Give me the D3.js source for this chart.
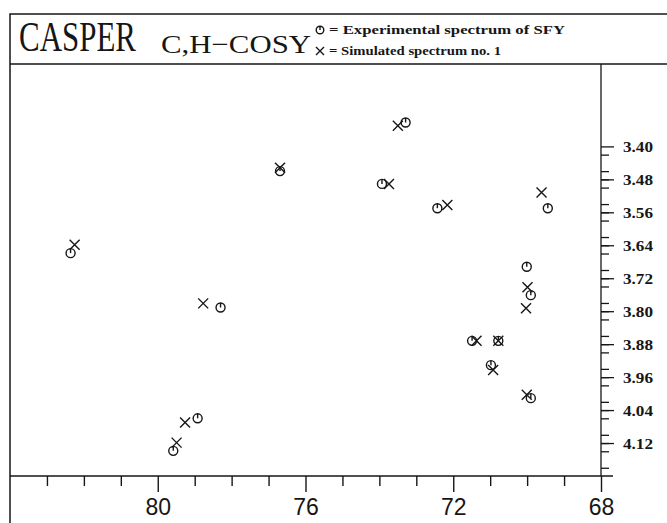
<!DOCTYPE html>
<html>
<head>
<meta charset="utf-8">
<script src="https://cdn.jsdelivr.net/npm/d3@7"></script>
<style>
  body { margin: 0; background: #fff; }
  svg { display: block; }
</style>
</head>
<body>
<svg width="667" height="523"></svg>
<script>
// experimental spectrum (circles): 13C shift, 1H shift
var expC = [82.36, 79.58, 78.92, 78.30, 76.69, 73.29, 73.93, 72.43, 69.44, 70.01, 69.90, 71.49, 70.78, 70.98, 69.90];
var expH = [3.659, 4.139, 4.060, 3.791, 3.460, 3.342, 3.491, 3.550, 3.550, 3.692, 3.761, 3.872, 3.872, 3.931, 4.011];
// simulated spectrum (crosses)
var simC = [82.25, 79.49, 79.26, 78.77, 76.69, 73.50, 73.74, 72.16, 69.61, 69.99, 70.03, 71.37, 70.78, 70.92, 70.01];
var simH = [3.639, 4.119, 4.070, 3.781, 3.452, 3.350, 3.491, 3.542, 3.512, 3.742, 3.793, 3.872, 3.872, 3.943, 4.003];

var xMajor = [80, 76, 72, 68];
var xMinor = [83, 82, 81, 79, 78, 77, 75, 74, 73, 71, 70, 69];
var yLabels = ["3.40", "3.48", "3.56", "3.64", "3.72", "3.80", "3.88", "3.96", "4.04", "4.12"];

var ink = "#161616";
var svg = d3.select("svg");

var x = d3.scaleLinear().domain([84, 68]).range([10, 601]);
var y = d3.scaleLinear().domain([3.20, 4.20]).range([64, 476]);

// frame
svg.append("path")
    .attr("d", "M10,523V14H667M10,64H667")
    .attr("fill", "none").attr("stroke", ink).attr("stroke-width", 1.5);

// title (CASPER squeezed with a transform, like the tall narrow original face)
svg.append("text")
    .attr("transform", "translate(19,51) scale(0.72,1)")
    .attr("font-family", "Liberation Serif").attr("font-size", 43)
    .attr("fill", ink).text("CASPER");
svg.append("text").attr("x", 161).attr("y", 53)
    .attr("font-family", "Liberation Serif").attr("font-size", 26)
    .attr("textLength", 150).attr("lengthAdjust", "spacingAndGlyphs")
    .attr("fill", ink).text("C,H\u2212COSY");
svg.append("text").attr("x", 329).attr("y", 34)
    .attr("font-family", "Liberation Serif").attr("font-weight", "bold").attr("font-size", 12)
    .attr("textLength", 236).attr("lengthAdjust", "spacingAndGlyphs")
    .attr("fill", ink).text("= Experimental spectrum of  SFY");
svg.append("text").attr("x", 329).attr("y", 55)
    .attr("font-family", "Liberation Serif").attr("font-weight", "bold").attr("font-size", 12)
    .attr("textLength", 172).attr("lengthAdjust", "spacingAndGlyphs")
    .attr("fill", ink).text("= Simulated spectrum no. 1");

function circleMark(g, cx, cy, r) {
    g.append("circle").attr("cx", cx).attr("cy", cy).attr("r", r)
        .attr("fill", "none").attr("stroke", ink).attr("stroke-width", 1.4);
    g.append("line").attr("x1", cx).attr("x2", cx).attr("y1", cy - r).attr("y2", cy)
        .attr("stroke", ink).attr("stroke-width", 1.4);
}
function crossMark(g, cx, cy, s) {
    g.append("path")
        .attr("d", "M" + (cx - s) + "," + (cy - s) + "L" + (cx + s) + "," + (cy + s) +
                   "M" + (cx - s) + "," + (cy + s) + "L" + (cx + s) + "," + (cy - s))
        .attr("stroke", ink).attr("stroke-width", 1.4).attr("fill", "none");
}

var leg = svg.append("g");
circleMark(leg, 320, 30, 3.8);
crossMark(leg, 320, 51, 4);

// bottom axis
var gx = svg.append("g").attr("transform", "translate(0,476)");
gx.append("line").attr("x1", 10).attr("x2", 613)
    .attr("stroke", ink).attr("stroke-width", 1.5);
gx.append("g")
    .call(d3.axisBottom(x).tickValues(xMinor).tickSize(10).tickFormat(""))
    .call(function (g) { g.select(".domain").remove(); });
gx.append("g")
    .call(d3.axisBottom(x).tickValues(xMajor).tickSize(16).tickPadding(7).tickFormat(d3.format("d")))
    .call(function (g) { g.select(".domain").remove(); });
gx.selectAll("line").attr("stroke", ink).attr("stroke-width", 1.4);
gx.selectAll("text").attr("font-family", "Liberation Sans").attr("font-size", 23).attr("fill", ink);

// right axis
var yMinor = d3.range(11, 50).map(function (i) { return +(3.2 + i * 0.02).toFixed(2); })
    .filter(function (v) { return Math.round(v * 100) % 8 !== 0; });
var yMajor = d3.range(3, 13).map(function (i) { return +(3.16 + i * 0.08).toFixed(2); }).filter(function (v) { return v < 4.2; });
var gy = svg.append("g").attr("transform", "translate(" + x(68) + ",0)");
gy.append("line").attr("y1", 64).attr("y2", 476)
    .attr("stroke", ink).attr("stroke-width", 1.5);
gy.append("g")
    .call(d3.axisRight(y).tickValues(yMinor).tickSize(8).tickFormat(""))
    .call(function (g) { g.select(".domain").remove(); });
gy.append("g")
    .call(d3.axisRight(y).tickValues(yMajor).tickSize(13).tickPadding(9)
        .tickFormat(function (d) { var s = d.toFixed(2); return yLabels.indexOf(s) >= 0 ? s : ""; }))
    .call(function (g) { g.select(".domain").remove(); });
gy.selectAll("line").attr("stroke", ink).attr("stroke-width", 1.3);
gy.selectAll("text").attr("font-family", "Liberation Serif").attr("font-weight", "bold")
    .attr("font-size", 15.5).attr("fill", ink)
    .filter(function () { return this.textContent !== ""; })
    .attr("textLength", 30).attr("lengthAdjust", "spacingAndGlyphs");

// marks
var marks = svg.append("g");
expC.forEach(function (c, i) { circleMark(marks, x(c), y(expH[i]), 4.5); });
simC.forEach(function (c, i) { crossMark(marks, x(c), y(simH[i]), 5); });
</script>
</body>
</html>
